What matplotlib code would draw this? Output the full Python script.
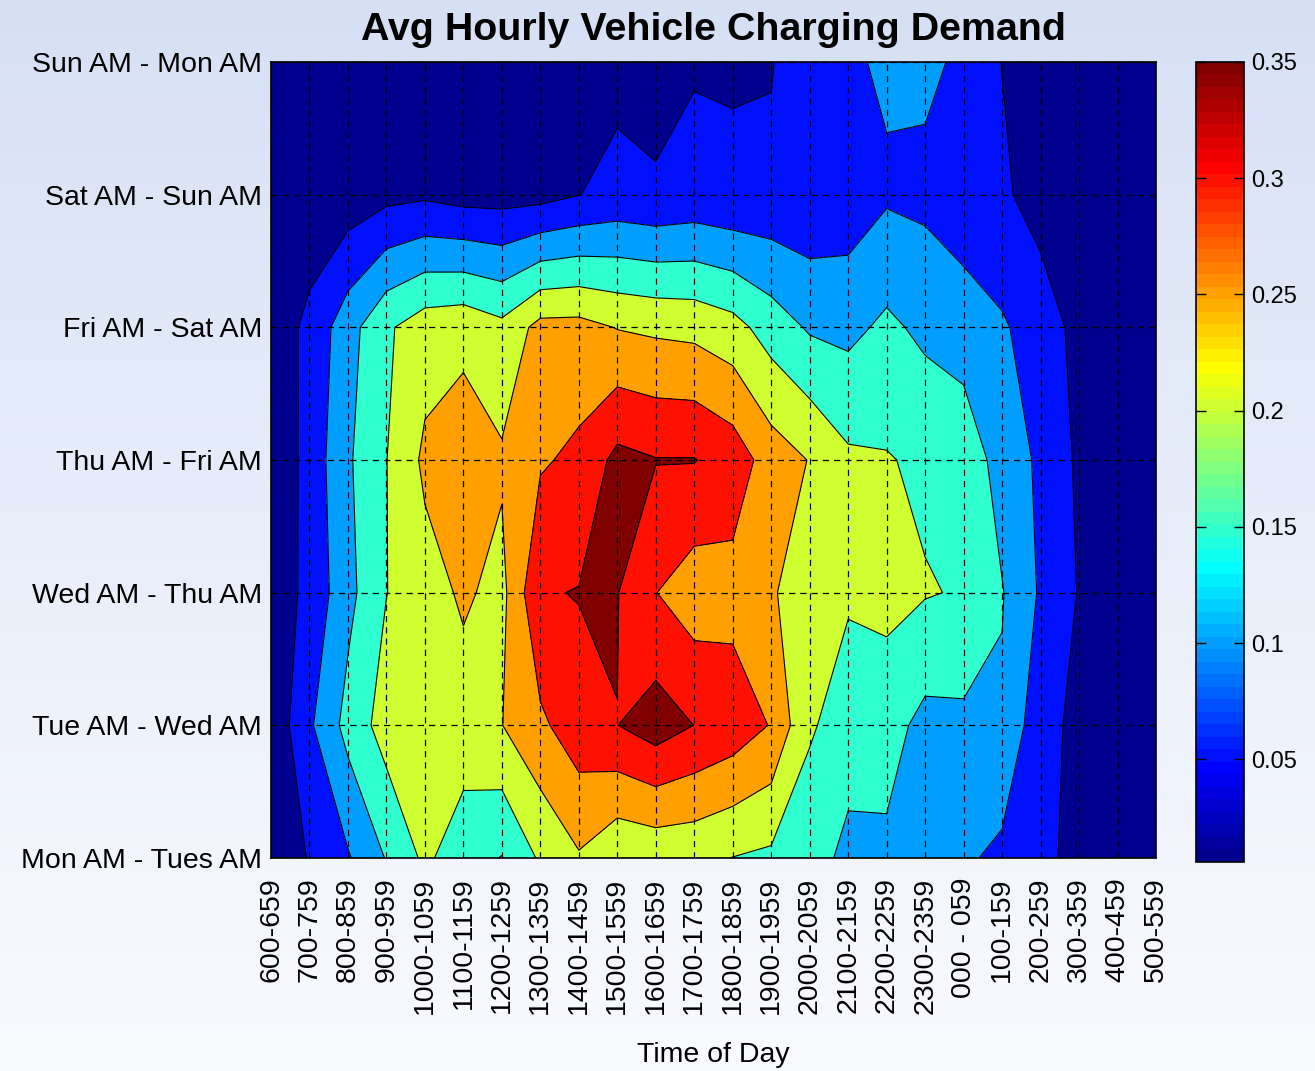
import numpy as np
import matplotlib
matplotlib.use('Agg')
import matplotlib.pyplot as plt
from matplotlib.colors import ListedColormap, Normalize
from matplotlib.cm import ScalarMappable

plt.rcParams['font.family'] = ['Liberation Sans', 'DejaVu Sans']

hours = ['600-659', '700-759', '800-859', '900-959', '1000-1059', '1100-1159',
         '1200-1259', '1300-1359', '1400-1459', '1500-1559', '1600-1659', '1700-1759',
         '1800-1859', '1900-1959', '2000-2059', '2100-2159', '2200-2259', '2300-2359',
         '000 - 059', '100-159', '200-259', '300-359', '400-459', '500-559']
days = ['Mon AM - Tues AM', 'Tue AM - Wed AM', 'Wed AM - Thu AM', 'Thu AM - Fri AM',
        'Fri AM - Sat AM', 'Sat AM - Sun AM', 'Sun AM - Mon AM']

# average demand per hour slot, one list per day
mon = [0.006, 0.054, 0.095, 0.153, 0.210, 0.170, 0.148, 0.207, 0.245, 0.207, 0.213, 0.2125,
       0.199, 0.190, 0.185, 0.129, 0.140, 0.125, 0.108, 0.088, 0.075, 0.020, 0.008, 0.006]
tue = [0.012, 0.092, 0.167, 0.222, 0.225, 0.229, 0.249, 0.290, 0.330, 0.3495, 0.375, 0.3495,
       0.330, 0.297, 0.203, 0.188, 0.170, 0.135, 0.1385, 0.143, 0.068, 0.037, 0.010, 0.008]
wed = [0.020, 0.063, 0.135, 0.199, 0.230, 0.257, 0.236, 0.346, 0.352, 0.352, 0.301, 0.272,
       0.281, 0.255, 0.224, 0.203, 0.215, 0.2033, 0.196, 0.153, 0.094, 0.047, 0.010, 0.008]
thu = [0.006, 0.068, 0.143, 0.199, 0.260, 0.279, 0.257, 0.294, 0.311, 0.364, 0.352, 0.352,
       0.329, 0.276, 0.248, 0.2086, 0.2032, 0.191, 0.189, 0.125, 0.0925, 0.041, 0.010, 0.008]
fri = [0.020, 0.062, 0.130, 0.1925, 0.227, 0.235, 0.213, 0.266, 0.267, 0.248, 0.241, 0.236,
       0.218, 0.177, 0.144, 0.137, 0.160, 0.139, 0.120, 0.106, 0.076, 0.035, 0.012, 0.008]
sat = [0.010, 0.019, 0.020, 0.036, 0.042, 0.031, 0.030, 0.033, 0.049, 0.063, 0.056, 0.064,
       0.057, 0.061, 0.059, 0.069, 0.093, 0.088, 0.0765, 0.058, 0.030, 0.015, 0.010, 0.008]
sun = [0.012, 0.015, 0.015, 0.020, 0.022, 0.020, 0.020, 0.025, 0.030, 0.037, 0.032, 0.046,
       0.0462, 0.0467, 0.090, 0.092, 0.108, 0.1106, 0.091, 0.049, 0.020, 0.010, 0.010, 0.008]

levels = [0.05, 0.10, 0.15, 0.20, 0.25, 0.30, 0.35]
cbar_ticks = [0.05, 0.10, 0.15, 0.20, 0.25, 0.30, 0.35]

demand = np.array([mon, tue, wed, thu, fri, sat, sun])


def matlab_jet(m=64):
    # same construction as MATLAB's jet(m)
    n = int(np.ceil(m / 4))
    u = np.r_[np.arange(1, n + 1) / n, np.ones(n - 1), np.arange(n, 0, -1) / n]
    g = int(np.ceil(n / 2)) - int(m % 4 == 1) + np.arange(1, len(u) + 1)
    r = g + n
    b = g - n
    J = np.zeros((m, 3))
    ok = r <= m
    J[r[ok] - 1, 0] = u[ok]
    ok = g <= m
    J[g[ok] - 1, 1] = u[ok]
    ok = b >= 1
    J[b[ok] - 1, 2] = u[ok]
    return ListedColormap(J)


jet = matlab_jet(64)
zmin = demand.min()
norm = Normalize(vmin=zmin, vmax=levels[-1])
# each filled band takes the colour of its lower level
band_colors = [jet(norm(v)) for v in [zmin] + levels]
fill_levels = [0.0] + levels + [1.0]

W, H = 1315, 1071
fig = plt.figure(figsize=(W / 100, H / 100), dpi=100)

# soft blue-to-white backdrop
bg = fig.add_axes([0, 0, 1, 1], zorder=-10)
top_c = np.array([214, 224, 245]) / 255
bot_c = np.array([250, 251, 255]) / 255
t = np.linspace(0, 1, 256)[:, None, None]
bg.imshow(top_c + (bot_c - top_c) * t, aspect='auto', extent=[0, 1, 0, 1])
bg.axis('off')

ax = fig.add_axes([271 / W, 1 - 858 / H, (1156 - 271) / W, (858 - 62) / H])
xs = np.arange(len(hours))
ys = np.arange(len(days))
ax.contourf(xs, ys, demand, levels=fill_levels, colors=band_colors)
ax.contour(xs, ys, demand, levels=levels, colors='k', linewidths=0.8)

ax.set_xlim(0, len(hours) - 1)
ax.set_ylim(0, len(days) - 1)
ax.set_xticks(xs)
ax.set_xticklabels(hours, rotation=90, va='top', ha='center')
ax.set_yticks(ys)
ax.set_yticklabels(days)
ax.tick_params(axis='both', length=0, labelsize=20.5)
ax.tick_params(axis='x', pad=14)
ax.tick_params(axis='y', pad=6.5)
ax.set_axisbelow(False)
ax.grid(True, color='k', linestyle=(0, (5, 4)), linewidth=0.9)
for s in ax.spines.values():
    s.set_linewidth(1.2)

ax.set_title('Avg Hourly Vehicle Charging Demand', fontsize=28.4, fontweight='bold', pad=16)
ax.set_xlabel('Time of Day', fontsize=20.5)
ax.xaxis.set_label_coords(0.5, (858 - 1042) / (858 - 62))

cax = fig.add_axes([1196 / W, 1 - 861.5 / H, 48 / W, (861.5 - 62) / H])
sm = ScalarMappable(norm=Normalize(vmin=zmin, vmax=0.35), cmap=jet)
cb = fig.colorbar(sm, cax=cax, ticks=cbar_ticks)
cb.ax.set_yticklabels(['%g' % v for v in cbar_ticks])
cb.ax.tick_params(direction='in', length=7, width=1, left=True, right=True,
                  labelsize=17, pad=5)
cb.outline.set_linewidth(1.2)

fig.savefig('out.png', dpi=100)
